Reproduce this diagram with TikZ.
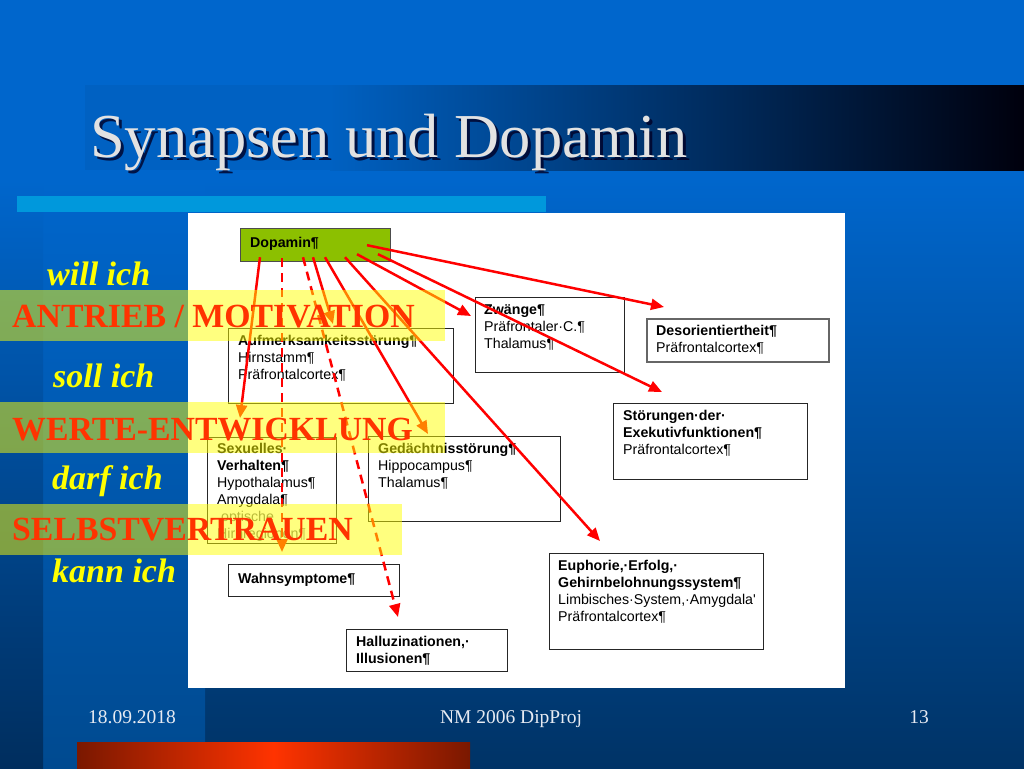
\documentclass[tikz,border=0pt]{standalone}
\usepackage{fontspec}
\setmainfont{Liberation Serif}
\newfontfamily\arialf{Liberation Sans}
\usetikzlibrary{arrows.meta,calc}
\definecolor{bgtop}{HTML}{0066CC}
\definecolor{bgbot}{HTML}{003366}
\definecolor{stripL}{HTML}{004A90}
\definecolor{stripD}{HTML}{002E5E}
\definecolor{barblue}{HTML}{0098DC}
\definecolor{titlegrey}{HTML}{E2E2E2}
\definecolor{dopgreen}{RGB}{140,192,0}
\definecolor{arrred}{HTML}{FF0000}
\definecolor{capred}{HTML}{FF3300}
\definecolor{labyellow}{HTML}{FFFF00}
\definecolor{footgrey}{HTML}{E6EAF2}
\definecolor{darkred}{HTML}{7A1800}
\begin{document}
\begin{tikzpicture}[x=1pt,y=-1pt,
  box/.style={draw=black!85, line width=1.2pt, fill=white, anchor=north west, inner sep=0pt},
  btxt/.style={anchor=north west, align=left, inner sep=0pt, text=black, font=\arialf\fontsize{14.2}{17}\selectfont},
  arr/.style={draw=arrred, line width=2.5pt, -{Triangle[length=13pt,width=11pt]}},
  darr/.style={arr, dash pattern=on 9pt off 6pt},
  band/.style={fill=labyellow, fill opacity=0.5},
  caps/.style={anchor=base west, inner sep=0pt, text=capred, font=\fontsize{33.8}{36}\selectfont\bfseries},
  ital/.style={anchor=base west, inner sep=0pt, text=labyellow, font=\fontsize{34}{36}\selectfont\bfseries\itshape},
  foot/.style={anchor=base, inner sep=0pt, text=footgrey, font=\fontsize{19.5}{22}\selectfont}]
\useasboundingbox (0,0) rectangle (1024,768);
% background
\fill[bgtop] (0,0) rectangle (1024,180);
\shade[top color=bgtop, bottom color=bgbot] (0,180) rectangle (1024,768);
\shade[top color=bgtop, bottom color=stripL] (43,180) rectangle (205,768);
\shade[top color=bgtop, bottom color=stripD] (0,180) rectangle (43,768);
% title bar
\fill[bgtop!95!black] (85,85) rectangle (330,170);
\shade[left color=bgtop!95!black, right color=black!95!blue] (330,85) rectangle (1024,170);
\node[anchor=base west, inner sep=0pt, text=black!85!blue, opacity=0.8, font=\fontsize{62.5}{66}\selectfont] (titles) at (93,160) {Synapsen und Dopamin};
\node[anchor=base west, inner sep=0pt, text=titlegrey, font=\fontsize{62.5}{66}\selectfont] (title) at (90,157) {Synapsen und Dopamin};
% light blue bar
\fill[barblue] (17,196) rectangle (546,212);
% white panel
\fill[white] (188,213) rectangle (845,688);
% boxes
\node[box, fill=dopgreen, draw=black!70, minimum width=150pt, minimum height=33pt] (dop) at (240,228) {};
\node[btxt] (dopT) at ($(dop.north west)+(10,9)$) {\textbf{Dopamin¶}};
\node[box, minimum width=225pt, minimum height=75pt] (aufm) at (228,328) {};
\node[btxt] (aufmT) at ($(aufm.north west)+(10,7)$) {\textbf{Aufmerksamkeitsstörung¶}\\Hirnstamm¶\\Präfrontalcortex¶};
\node[box, minimum width=149pt, minimum height=75pt] (zwa) at (475,297) {};
\node[btxt] (zwaT) at ($(zwa.north west)+(9,7)$) {\textbf{Zwänge¶}\\Präfrontaler·C.¶\\Thalamus¶};
\node[box, draw=black!60, line width=1.6pt, minimum width=182pt, minimum height=43pt] (des) at (646,318) {};
\node[btxt] (desT) at ($(des.north west)+(10,7)$) {\textbf{Desorientiertheit¶}\\Präfrontalcortex¶};
\node[box, minimum width=194pt, minimum height=76pt] (stoe) at (613,403) {};
\node[btxt] (stoeT) at ($(stoe.north west)+(10,7)$) {\textbf{Störungen·der·}\\\textbf{Exekutivfunktionen¶}\\Präfrontalcortex¶};
\node[box, minimum width=214pt, minimum height=96pt] (eup) at (549,553) {};
\node[btxt] (eupT) at ($(eup.north west)+(9,7)$) {\textbf{Euphorie,·Erfolg,·}\\\textbf{Gehirnbelohnungssystem¶}\\Limbisches·System,·Amygdala'\\Präfrontalcortex¶};
\node[box, minimum width=129pt, minimum height=106pt] (sex) at (207,437) {};
\node[btxt] (sexT) at ($(sex.north west)+(10,6)$) {\textbf{Sexuelles·}\\\textbf{Verhalten¶}\\Hypothalamus¶\\Amygdala¶\\\textcolor{black!55}{\ optische}\\\textcolor{black!55}{Hirnregionen¶}};
\node[box, minimum width=192pt, minimum height=85pt] (ged) at (368,436) {};
\node[btxt] (gedT) at ($(ged.north west)+(10,7)$) {\textbf{Gedächtnisstörung¶}\\Hippocampus¶\\Thalamus¶};
\node[box, minimum width=171pt, minimum height=32pt] (wahn) at (228,564) {};
\node[btxt] (wahnT) at ($(wahn.north west)+(10,9)$) {\textbf{Wahnsymptome¶}};
\node[box, minimum width=161pt, minimum height=42pt] (hal) at (346,629) {};
\node[btxt] (halT) at ($(hal.north west)+(10,7)$) {\textbf{Halluzinationen,·}\\\textbf{Illusionen¶}};
% arrows
\draw[arr] ($(dop.south west)+(20,-5)$) -- ($(sex.north west)+(33,-19)$);
\draw[darr] ($(dop.south west)+(42,-4)$) -- ($(wahn.north west)+(54,-12)$);
\draw[darr] ($(dop.south west)+(63,-5)$) -- ($(hal.north west)+(52,-12)$);
\draw[arr] ($(dop.south west)+(73,-5)$) -- ($(aufm.north west)+(105,-4)$);
\draw[arr] ($(dop.south west)+(85,-5)$) -- ($(ged.north west)+(60,-2)$);
\draw[arr] ($(dop.south west)+(105,-5)$) -- ($(eup.north west)+(51,-12)$);
\draw[arr] ($(dop.south west)+(117,-8)$) -- ($(zwa.north west)+(-4,19)$);
\draw[arr] ($(dop.south west)+(138,-8)$) -- ($(stoe.north west)+(49,-11)$);
\draw[arr] ($(dop.south west)+(127,-17)$) -- ($(des.north west)+(18,-11)$);
% bands
\fill[band] (0,290) rectangle (445,341);
\fill[band] (0,402) rectangle (445,453);
\fill[band] (0,504) rectangle (402,555);
% labels
\node[ital] (will) at (47,285) {will ich};
\node[caps] (antrieb) at (12,327) {ANTRIEB / MOTIVATION};
\node[ital] (soll) at (53,387) {soll ich};
\node[caps] (werte) at (12,440) {WERTE-ENTWICKLUNG};
\node[ital] (darf) at (52,489) {darf ich};
\node[caps] (selbst) at (12,540) {SELBSTVERTRAUEN};
\node[ital] (kann) at (52,582) {kann ich};
% footer
\node[foot] (date) at (132,723) {18.09.2018};
\node[foot] (proj) at (511,723) {NM 2006 DipProj};
\node[foot] (page) at (919,723) {13};
\shade[left color=darkred, right color=darkred, middle color=capred] (77,742) rectangle (470,768);
\end{tikzpicture}
\end{document}
